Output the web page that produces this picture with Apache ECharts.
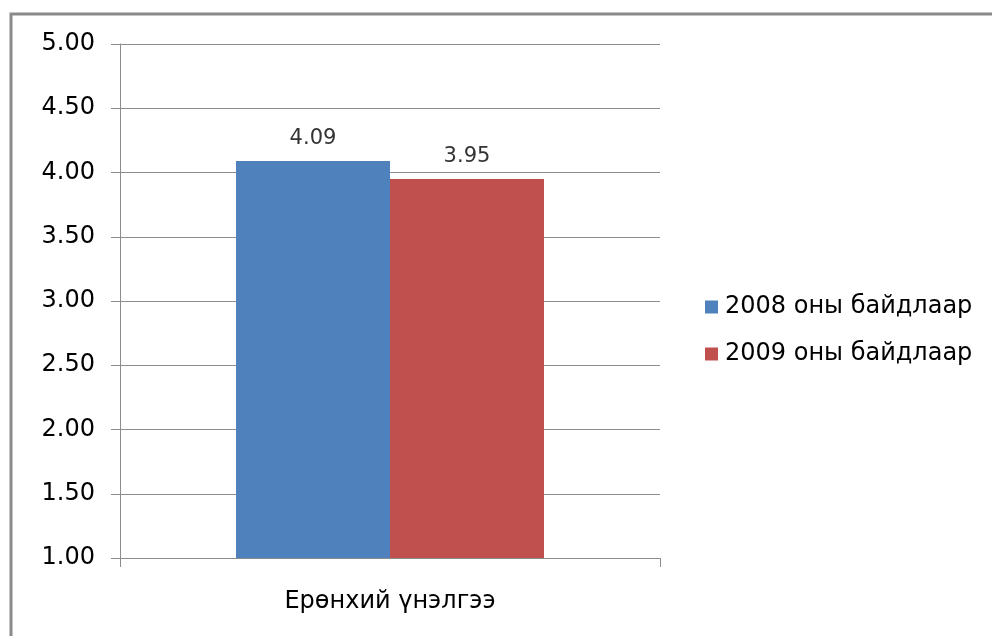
<!DOCTYPE html>
<html><head><meta charset="utf-8">
<script src="https://cdn.jsdelivr.net/npm/echarts@6/dist/echarts.min.js"></script>
<style>html,body{margin:0;padding:0;background:#fff}#c{width:992px;height:636px}</style>
</head><body><div id="c"></div>
<script>
const categories = ['Ерөнхий үнэлгээ'];
const seriesNames = ['2008 оны байдлаар', '2009 оны байдлаар'];
const values2008 = [4.09];
const values2009 = [3.95];
const colors = ['#4f81bd', '#c0504d'];

const chart = echarts.init(document.getElementById('c'));
const font = 'DejaVu Sans, Liberation Sans, Arial, sans-serif';
chart.setOption({
  animation: false,
  color: colors,
  graphic: [{
    type: 'rect', shape: {x: 11, y: 14, width: 1100, height: 800},
    style: {fill: 'none', stroke: '#8a8a8a', lineWidth: 3}, silent: true
  }],
  grid: {left: 120, right: 332, top: 44, bottom: 78},
  legend: {
    orient: 'vertical', left: 700, top: 290, itemWidth: 13, itemHeight: 13, itemGap: 23,
    icon: 'rect',
    textStyle: {fontFamily: font, fontSize: 24, color: '#000', padding: [0,0,0,2]},
    data: seriesNames
  },
  xAxis: {
    type: 'category', data: categories,
    axisLine: {lineStyle: {color: '#8c8c8c', width: 1}},
    axisTick: {show: true, length: 9, lineStyle: {color: '#8c8c8c'}},
    axisLabel: {fontFamily: font, fontSize: 24, color: '#000', margin: 32}
  },
  yAxis: {
    type: 'value', min: 1, max: 5, interval: 0.5,
    axisLine: {show: true, lineStyle: {color: '#8c8c8c'}},
    axisTick: {show: true, length: 9, lineStyle: {color: '#8c8c8c'}},
    splitLine: {lineStyle: {color: '#8c8c8c'}},
    axisLabel: {fontFamily: font, fontSize: 24, color: '#000', margin: 25,
      formatter: v => v.toFixed(2)}
  },
  series: [
    {name: seriesNames[0], type: 'bar', data: values2008, barWidth: 154, barGap: '0%',
     label: {show: true, position: 'top', distance: 12, fontFamily: font, fontSize: 21, color: '#333',
       formatter: p => p.value.toFixed(2)}},
    {name: seriesNames[1], type: 'bar', data: values2009, barWidth: 154, barGap: '0%',
     label: {show: true, position: 'top', distance: 12, fontFamily: font, fontSize: 21, color: '#333',
       formatter: p => p.value.toFixed(2)}}
  ]
});
</script></body></html>
